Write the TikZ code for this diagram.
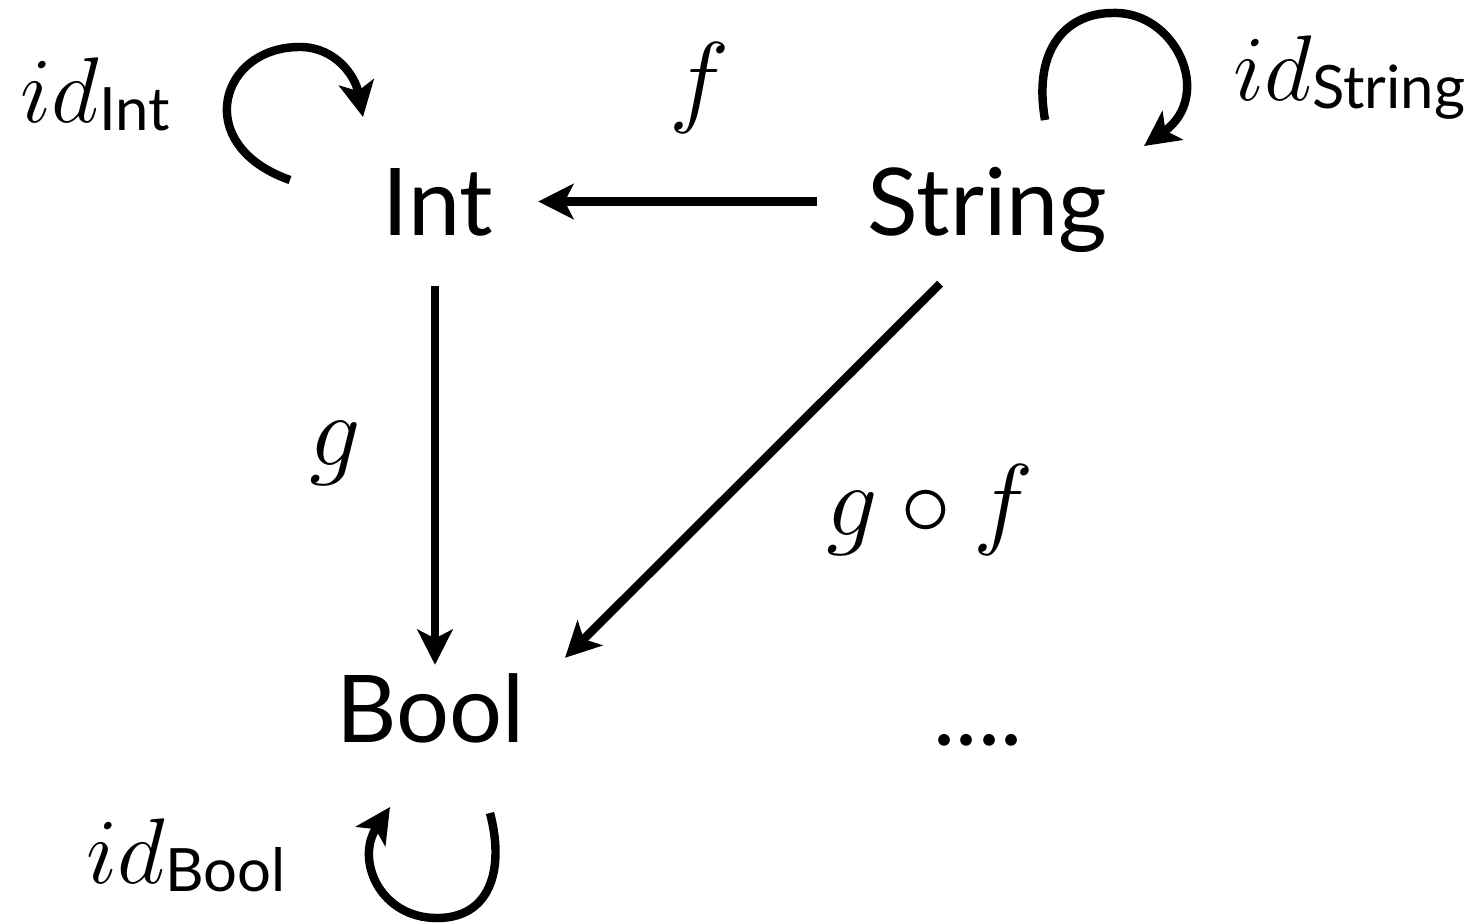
\RequirePackage{fix-cm}
\documentclass[tikz,border=0pt]{standalone}
\usepackage{fontspec}
\usetikzlibrary{arrows.meta}
\newfontfamily\labfont{Lato}
\newcommand\sublab[1]{\raisebox{-0.08cm}{\labfont\fontsize{17}{20}\selectfont #1}}
\tikzset{
  obj/.style={inner sep=0pt, text height=0.67cm, text depth=0pt, align=center,
    font=\labfont\fontsize{26.6}{30}\selectfont},
  arr/.style={line width=2.4pt, -{Stealth[length=10pt,width=10pt,inset=2.5pt]}},
  mathlab/.style={inner sep=0pt, font=\fontsize{29}{32}\selectfont},
  idlab/.style={inner sep=0pt, anchor=base west, font=\fontsize{26.5}{30}\selectfont},
}
\begin{document}
\begin{tikzpicture}[x=0.01cm,y=-0.01cm]
\useasboundingbox (0,0) rectangle (1474,923);
% objects
\node[obj, text width=1.05cm] (Int) at (435,201.5) {Int};
\node[obj, text width=2.35cm] (String) at (985.5,201.5) {String};
\node[obj, text width=1.83cm] (Bool) at (428.5,709) {Bool};
\node[obj, anchor=base] (dots) at (978,745) {....};
% labels
\node[mathlab, anchor=base] (lf) at (700,113) {$f$};
\node[mathlab, anchor=base] (lg) at (335,465) {$g$};
\node[mathlab, anchor=base] (lgf) at (930,535) {$g\circ f$};
\node[idlab] (idI) at (20,122) {$id$\sublab{Int}};
\node[idlab] (idS) at (1233,100) {$id$\sublab{String}};
\node[idlab] (idB) at (86,883) {$id$\sublab{Bool}};
% arrows
\draw[arr, shorten <=0.5cm, shorten >=0.5cm] (String.west) -- (Int.east);
\draw[arr, shorten <=0.5cm, shorten >=0.1cm] (Int.south) -- (Int.south |- Bool.north);
\draw[arr] ([shift={(-45.5,48)}]String.south) -- ([shift={(136.5,-17)}]Bool.north);
% identity loops
\draw[arr] ([shift={(-145,-21.5)}]Int.center) .. controls (190,145) and (220,45) .. (302,47)
  .. controls (335,48) and (355,75) .. ([shift={(-72,-84.5)}]Int.center);
\draw[arr] ([shift={(59.5,-81.5)}]String.center) .. controls (1032,45) and (1070,13) .. (1112,13)
  .. controls (1175,10) and (1215,95) .. ([shift={(158.5,-55.5)}]String.center);
\draw[arr] ([shift={(61.5,104)}]Bool.center) .. controls (505,870) and (490,918) .. (437,918)
  .. controls (380,918) and (355,860) .. ([shift={(-38.5,98)}]Bool.center);
\end{tikzpicture}
\end{document}
